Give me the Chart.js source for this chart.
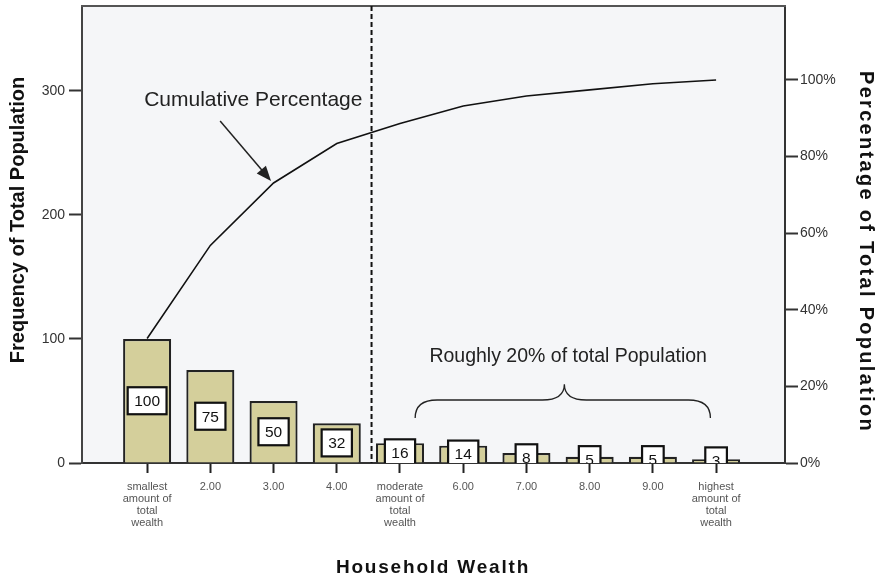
<!DOCTYPE html>
<html>
<head>
<meta charset="utf-8">
<script src="https://cdn.jsdelivr.net/npm/chart.js@4.4.1/dist/chart.umd.min.js"></script>
<style>
  html, body { margin: 0; padding: 0; background: #fff; }
  #wrap { width: 884px; height: 580px; }
</style>
</head>
<body>
<div id="wrap"><canvas id="pareto" width="884" height="580"></canvas></div>
<script>
// ---- data ----
const categories = [
  ["smallest", "amount of", "total", "wealth"], "2.00", "3.00", "4.00",
  ["moderate", "amount of", "total", "wealth"], "6.00", "7.00", "8.00", "9.00",
  ["highest", "amount of", "total", "wealth"]
];
const frequency = [100, 75, 50, 32, 16, 14, 8, 5, 5, 3];
const cumulativePct = [32.5, 56.8, 73.1, 83.4, 88.6, 93.2, 95.8, 97.4, 99.0, 100];
const freqTicks = [0, 100, 200, 300];
const pctTicks = [0, 20, 40, 60, 80, 100];

const FONT = "'Liberation Sans', Arial, sans-serif";

// background of the plot area + frame top line
const plotBg = {
  id: "plotBg",
  beforeDraw(chart) {
    const { ctx, chartArea: a } = chart;
    ctx.save();
    ctx.fillStyle = "#f5f6f8";
    ctx.fillRect(a.left, a.top, a.right - a.left, a.bottom - a.top);
    ctx.restore();
  },
  afterDraw(chart) {
    const { ctx, chartArea: a } = chart;
    ctx.save();
    ctx.strokeStyle = "#555";
    ctx.lineWidth = 2;
    ctx.beginPath();
    ctx.moveTo(a.left - 1, a.top);
    ctx.lineTo(a.right + 1, a.top);
    ctx.stroke();
    ctx.restore();
  }
};

// white value boxes on the bars
const valueBoxes = {
  id: "valueBoxes",
  afterDatasetsDraw(chart) {
    const { ctx, chartArea: a } = chart;
    const meta = chart.getDatasetMeta(0);
    ctx.save();
    ctx.beginPath();
    ctx.rect(a.left, a.top, a.right - a.left, a.bottom - a.top);
    ctx.clip();
    ctx.font = "15.5px " + FONT;
    ctx.textAlign = "center";
    ctx.textBaseline = "middle";
    meta.data.forEach((bar, i) => {
      const txt = String(frequency[i]);
      const w = ctx.measureText(txt).width + 13;
      const h = 27;
      const cy = (bar.y + bar.base) / 2;
      ctx.fillStyle = "#fff";
      ctx.fillRect(bar.x - w / 2, cy - h / 2, w, h);
      ctx.strokeStyle = "#111";
      ctx.lineWidth = 2.2;
      ctx.strokeRect(bar.x - w / 2, cy - h / 2, w, h);
      ctx.fillStyle = "#111";
      ctx.fillText(txt, bar.x, cy + 1);
    });
    ctx.restore();
  }
};

// dashed split line, arrow, brace, notes and axis titles
const notes = {
  id: "notes",
  afterDraw(chart) {
    const { ctx, chartArea: a } = chart;
    const x = chart.scales.x, y = chart.scales.y;
    const px = v => x.getPixelForValue(v);
    const py = v => y.getPixelForValue(v);
    ctx.save();

    // dashed divider between 4.00 and moderate
    ctx.strokeStyle = "#111";
    ctx.lineWidth = 2;
    ctx.setLineDash([5, 3]);
    ctx.beginPath();
    ctx.moveTo(px(4.55), a.top);
    ctx.lineTo(px(4.55), a.bottom);
    ctx.stroke();
    ctx.setLineDash([]);

    // "Cumulative Percentage" + arrow
    ctx.fillStyle = "#222";
    ctx.font = "21px " + FONT;
    ctx.textAlign = "center";
    ctx.textBaseline = "middle";
    ctx.fillText("Cumulative Percentage", px(2.68), py(292.7));

    const x0 = px(2.155), y0 = py(275.8), x1 = px(2.96), y1 = py(227.4);
    const ang = Math.atan2(y1 - y0, x1 - x0);
    ctx.lineWidth = 1.5;
    ctx.strokeStyle = "#222";
    ctx.beginPath();
    ctx.moveTo(x0, y0);
    ctx.lineTo(x1 - 10 * Math.cos(ang), y1 - 10 * Math.sin(ang));
    ctx.stroke();
    ctx.beginPath();
    ctx.moveTo(x1, y1);
    ctx.lineTo(x1 - 15 * Math.cos(ang) + 6 * Math.sin(ang), y1 - 15 * Math.sin(ang) - 6 * Math.cos(ang));
    ctx.lineTo(x1 - 15 * Math.cos(ang) - 6 * Math.sin(ang), y1 - 15 * Math.sin(ang) + 6 * Math.cos(ang));
    ctx.closePath();
    ctx.fill();

    // brace over the upper half
    const L = px(5.24), R = px(9.91), C = px(7.6);
    const yE = py(36.3), yH = py(50.8), yC = py(63.5);
    ctx.lineWidth = 1.3;
    ctx.beginPath();
    ctx.moveTo(L, yE);
    ctx.quadraticCurveTo(L, yH, L + 22, yH);
    ctx.lineTo(C - 22, yH);
    ctx.quadraticCurveTo(C, yH, C, yC);
    ctx.quadraticCurveTo(C, yH, C + 22, yH);
    ctx.lineTo(R - 22, yH);
    ctx.quadraticCurveTo(R, yH, R, yE);
    ctx.stroke();

    ctx.font = "19.5px " + FONT;
    ctx.fillText("Roughly 20% of total Population", px(7.66), py(85.5));

    // axis titles
    ctx.fillStyle = "#111";
    ctx.font = "bold 20px " + FONT;
    ctx.save();
    ctx.translate(18, 220);
    ctx.rotate(-Math.PI / 2);
    ctx.fillText("Frequency of Total Population", 0, 0);
    ctx.restore();

    ctx.save();
    ctx.letterSpacing = "2.3px";
    ctx.translate(866, 252);
    ctx.rotate(Math.PI / 2);
    ctx.fillText("Percentage of Total Population", 0, 0);
    ctx.restore();

    ctx.save();
    ctx.font = "bold 19px " + FONT;
    ctx.letterSpacing = "1.8px";
    ctx.fillText("Household Wealth", 433, 568);
    ctx.restore();

    ctx.restore();
  }
};

const noPad = s => { s.paddingTop = 0; s.paddingBottom = 0; s.paddingLeft = 0; s.paddingRight = 0; };

new Chart(document.getElementById("pareto"), {
  data: {
    datasets: [
      {
        type: "bar",
        data: frequency.map((v, i) => ({ x: i + 1, y: v })),
        backgroundColor: "#d4cf9b",
        borderColor: "#222",
        borderWidth: 2.2,
        barPercentage: 0.76,
        categoryPercentage: 1,
        yAxisID: "y",
        order: 2
      },
      {
        type: "line",
        data: cumulativePct.map((v, i) => ({ x: i + 1, y: v })),
        borderColor: "#111",
        borderWidth: 1.6,
        pointRadius: 0,
        tension: 0,
        yAxisID: "y1",
        order: 1
      }
    ]
  },
  options: {
    responsive: false,
    animation: false,
    devicePixelRatio: 1,
    layout: { padding: { top: 6, left: 0, right: 0, bottom: 0 } },
    plugins: { legend: { display: false }, tooltip: { enabled: false } },
    scales: {
      x: {
        type: "linear",
        offset: false,
        min: -0.03,
        max: 11.09,
        afterBuildTicks: s => { s.ticks = categories.map((c, i) => ({ value: i + 1 })); },
        afterFit: s => { s.height = 117; noPad(s); },
        grid: { offset: false, drawOnChartArea: false, tickLength: 10, tickColor: "#222", tickWidth: 2 },
        border: { color: "#333", width: 2 },
        ticks: {
          autoSkip: false,
          maxRotation: 0,
          padding: 8,
          color: "#555",
          font: { family: FONT, size: 11, lineHeight: 1.1 },
          callback: v => categories[Math.round(v) - 1]
        }
      },
      y: {
        position: "left",
        min: 0,
        max: 368.5,
        afterBuildTicks: s => { s.ticks = freqTicks.map(v => ({ value: v })); },
        afterFit: s => { s.width = 82; noPad(s); },
        grid: { drawOnChartArea: false, tickLength: 13, tickColor: "#333", tickWidth: 2 },
        border: { color: "#444", width: 2 },
        ticks: { padding: 4, color: "#333", font: { family: FONT, size: 14 } }
      },
      y1: {
        position: "right",
        min: 0,
        max: 119.3,
        afterBuildTicks: s => { s.ticks = pctTicks.map(v => ({ value: v })); },
        afterFit: s => { s.width = 99; noPad(s); },
        grid: { drawOnChartArea: false, tickLength: 13, tickColor: "#333", tickWidth: 2 },
        border: { color: "#333", width: 2 },
        ticks: { padding: 2, color: "#333", font: { family: FONT, size: 14 }, callback: v => v + "%" }
      }
    }
  },
  plugins: [plotBg, valueBoxes, notes]
});
</script>
</body>
</html>
